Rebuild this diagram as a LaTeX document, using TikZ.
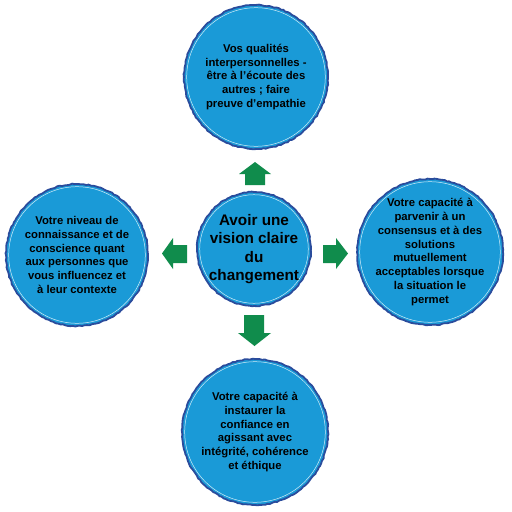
\documentclass[tikz,border=0pt]{standalone}
\usepackage{fontspec}
\setmainfont{Liberation Sans}
\usetikzlibrary{decorations.pathmorphing}
\definecolor{bubblefill}{HTML}{1A9AD7}
\definecolor{bubbleedge}{HTML}{2A4C9C}
\definecolor{arrowgreen}{HTML}{108C4C}
\tikzset{
  bubbletext/.style={inner sep=0pt, align=center, text=black,
    font=\bfseries\fontsize{11.3}{13.9}\selectfont},
  bigtext/.style={bubbletext, font=\bfseries\fontsize{15.3}{18.3}\selectfont},
  disc/.style={fill=bubblefill},
  rim/.style={draw=bubbleedge, line width=1.8pt, decorate,
    decoration={random steps, segment length=2.5pt, amplitude=0.5pt}},
  innerrim/.style={draw=white, line width=0.5pt, opacity=0.8},
  blockarrow/.style={fill=arrowgreen},
}
\begin{document}
\begin{tikzpicture}[x=1pt,y=-1pt]
\pgfmathsetseed{7}
\useasboundingbox (0,0) rectangle (512,512);
\fill[white] (0,0) rectangle (512,512);

\coordinate (topc) at (256,77);
\coordinate (centerc) at (254,249);
\coordinate (leftc) at (77,255);
\coordinate (rightc) at (430,252);
\coordinate (bottomc) at (255,432);

\fill[disc] (topc) circle[radius=72pt];
\fill[disc] (centerc) circle[radius=57pt];
\fill[disc] (leftc) circle[radius=71pt];
\fill[disc] (rightc) circle[radius=73pt];
\fill[disc] (bottomc) circle[radius=73pt];

\draw[rim] (topc) circle[radius=72pt];
\draw[rim] (centerc) circle[radius=57pt];
\draw[rim] (leftc) circle[radius=71pt];
\draw[rim] (rightc) circle[radius=73pt];
\draw[rim] (bottomc) circle[radius=73pt];
\draw[innerrim] (topc) circle[radius=69.3pt];
\draw[innerrim] (centerc) circle[radius=54.3pt];
\draw[innerrim] (leftc) circle[radius=68.3pt];
\draw[innerrim] (rightc) circle[radius=70.3pt];
\draw[innerrim] (bottomc) circle[radius=70.3pt];

\node[bubbletext] (top) at (topc)
  {Vos qualités\\interpersonnelles -\\être à l’écoute des\\autres ; faire\\preuve d'empathie};
\node[bigtext] (center) at (centerc)
  {Avoir une\\vision claire\\du\\changement};
\node[bubbletext] (left) at (leftc)
  {Votre niveau de\\connaissance et de\\conscience quant\\aux personnes que\\vous influencez et\\à leur contexte};
\node[bubbletext] (right) at (rightc)
  {Votre capacité à\\parvenir à un\\consensus et à des\\solutions\\mutuellement\\acceptables lorsque\\la situation le\\permet};
\node[bubbletext] (bottom) at (bottomc)
  {Votre capacité à\\instaurer la\\confiance en\\agissant avec\\intégrité, cohérence\\et éthique};

% block arrows
\fill[blockarrow] (245,185) -- (245,174) -- (239,174) -- (255,162) -- (271,174) -- (265,174) -- (265,185) -- cycle;
\fill[blockarrow] (244,315) -- (264,315) -- (264,333) -- (271,333) -- (254.5,346) -- (238,333) -- (244,333) -- cycle;
\fill[blockarrow] (187,245) -- (173,245) -- (173,238) -- (162,253.5) -- (173,269) -- (173,263) -- (187,263) -- cycle;
\fill[blockarrow] (323,245) -- (336,245) -- (336,238) -- (348,253.5) -- (336,269) -- (336,263) -- (323,263) -- cycle;
\end{tikzpicture}
\end{document}
